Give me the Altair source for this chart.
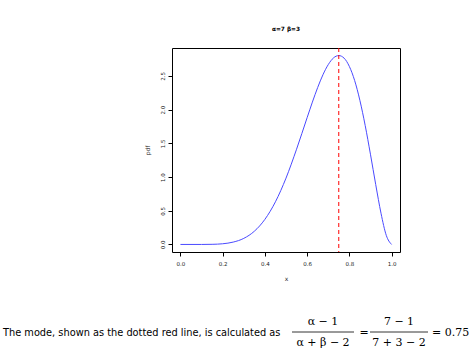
import altair as alt
import pandas as pd

# Beta(7,3) density
xs = [0.0, 0.05, 0.1, 0.15, 0.2, 0.25, 0.3, 0.35, 0.4, 0.45, 0.5, 0.55, 0.6,
      0.625, 0.65, 0.675, 0.7, 0.725, 0.75, 0.775, 0.8, 0.825, 0.85, 0.875,
      0.9, 0.925, 0.95, 0.975, 1.0]
pdf = [0.0, 0.0, 0.0002, 0.002, 0.010, 0.035, 0.090, 0.196, 0.372, 0.633,
       0.984, 1.413, 1.881, 2.112, 2.328, 2.518, 2.668, 2.768, 2.803, 2.765,
       2.642, 2.434, 2.138, 1.767, 1.339, 0.888, 0.463, 0.135, 0.0]
mode = [0.75]
x_ticks = [0.0, 0.2, 0.4, 0.6, 0.8, 1.0]
y_ticks = [0.0, 0.5, 1.0, 1.5, 2.0, 2.5]
title_text = "α=7 β=3"
caption = "The mode, shown as the dotted red line, is calculated as"

df = pd.DataFrame({"x": xs, "pdf": pdf})
mdf = pd.DataFrame({"m": mode})

W, H = 228, 204
OX, OY = 172, 48  # plot origin in page pixels

xscale = alt.Scale(domain=[-0.04, 1.04], nice=False, zero=False)
yscale = alt.Scale(domain=[-0.112, 2.915], nice=False, zero=False)

axis_common = dict(grid=False, domain=False, tickColor="black", tickSize=4,
                   labelFont="DejaVu Sans", labelFontSize=5.5, labelColor="#222",
                   titleFont="DejaVu Sans", titleFontSize=6, titleFontWeight="normal",
                   titleColor="#222")

line = alt.Chart(df).mark_line(color="#4a4aff", strokeWidth=1, interpolate="monotone").encode(
    x=alt.X("x:Q", scale=xscale,
            axis=alt.Axis(values=x_ticks, format=".1f", title="x", labelPadding=5,
                          titlePadding=9, **axis_common)),
    y=alt.Y("pdf:Q", scale=yscale,
            axis=alt.Axis(values=y_ticks, format=".1f", title="pdf", labelAngle=270,
                          labelAlign="center", labelBaseline="bottom", labelPadding=3,
                          titlePadding=10, **axis_common)),
)

vline = alt.Chart(mdf).mark_rule(color="red", strokeDash=[4, 3], strokeWidth=1).encode(
    x=alt.X("m:Q", scale=xscale)
)

def px(x):
    return x - OX

def py(y):
    return y - OY

def txt(s, x, y, align="center", size=11, font="DejaVu Sans", weight="normal", style="normal"):
    return alt.Chart(pd.DataFrame({"t": [s]})).mark_text(
        align=align, baseline="middle", fontSize=size, font=font, fontWeight=weight,
        fontStyle=style, color="black"
    ).encode(x=alt.value(px(x)), y=alt.value(py(y)), text="t:N")

def bar(x1, x2, y):
    return alt.Chart(pd.DataFrame({"a": [0]})).mark_rule(color="black", strokeWidth=0.8).encode(
        x=alt.value(px(x1)), x2=alt.value(px(x2)), y=alt.value(py(y))
    )

title = txt(title_text, 286, 29, size=5.8, font="DejaVu Sans", weight="bold")
cap = txt(caption, 3, 333, align="left", size=9.8)
mf = "DejaVu Serif"
ms = 11
f1n = txt("α − 1", 323, 322, font=mf, size=ms)
f1b = bar(292, 354, 332)
f1d = txt("α + β − 2", 323, 343, font=mf, size=ms)
eq1 = txt("=", 364, 333, font=mf, size=ms)
f2n = txt("7 − 1", 399, 322, font=mf, size=ms)
f2b = bar(370, 428, 332)
f2d = txt("7 + 3 − 2", 399, 343, font=mf, size=ms)
eq2 = txt("= 0.75", 432, 333, align="left", font=mf, size=ms)

chart = alt.layer(line, vline, title, cap, f1n, f1b, f1d, eq1, f2n, f2b, f2d, eq2).properties(
    width=W, height=H,
    autosize=alt.AutoSizeParams(type="none"),
    padding={"left": OX, "top": OY, "right": 472 - OX - W, "bottom": 353 - OY - H},
    background="white",
).configure_view(stroke="black", strokeWidth=1)

chart.save("out.html", embed_options={"renderer": "svg", "actions": False})
